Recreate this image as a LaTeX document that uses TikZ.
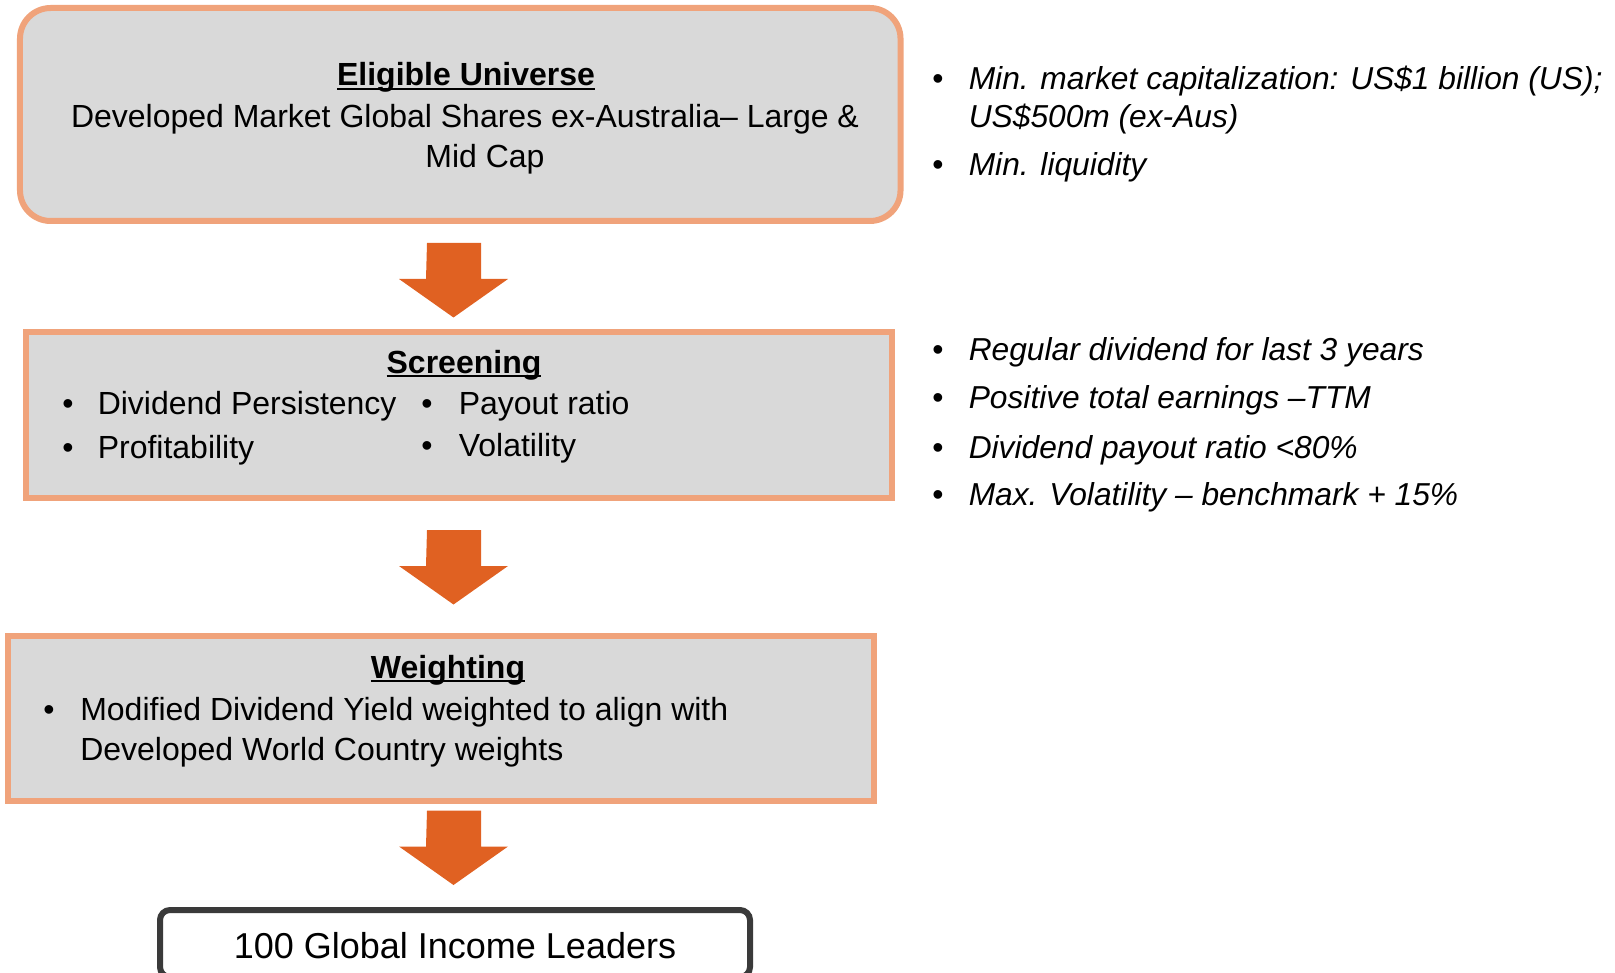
\documentclass[tikz,border=0pt]{standalone}
\usepackage{fontspec}
\setmainfont{Liberation Sans}
\definecolor{rim}{RGB}{240,163,123}
\definecolor{panel}{RGB}{217,217,217}
\definecolor{flow}{RGB}{224,97,34}
\definecolor{ink}{RGB}{58,58,58}
% bold heading with an underline that runs through the descenders
\newcommand\ttl[1]{\textbf{\setbox0\hbox{#1}\rlap{\rule[-0.12em]{\wd0}{0.07em}}\box0}}
% orange block arrow hanging from a named top point
\newcommand\blockarrow[1]{\fill[flow] (#1) ++(-27,0) -- ++(54,0) -- ++(0,36) -- ++(27,0)
  -- ++(-54.5,38.5) -- ++(-54.5,-38.5) -- ++(27,0) -- cycle;}
\begin{document}
\begin{tikzpicture}[x=0.75pt,y=-0.75pt,
  stage/.style={draw=rim,line width=4.5pt,fill=panel,inner sep=0pt},
  result/.style={draw=ink,line width=4.5pt,fill=white,rounded corners=7.5pt,inner sep=0pt},
  txt/.style={anchor=base,inner sep=0pt,font=\fontsize{24}{30}\selectfont},
  ltxt/.style={txt,anchor=base west},
  note/.style={ltxt,font=\fontsize{23.8}{30}\selectfont\itshape}]
\useasboundingbox (0,0) rectangle (1615,973);

% stage boxes
\node[stage,rounded corners=23pt,minimum width=660.4pt,minimum height=159.75pt] (uni) at (460.25,114.5) {};
\node[stage,minimum width=649.5pt,minimum height=124.5pt] (scr) at (459,415) {};
\node[stage,minimum width=649.5pt,minimum height=123.75pt] (wgt) at (441,718.5) {};
\node[result,minimum width=442.5pt,minimum height=50.25pt] (out) at (455,943.5) {};

% flow arrows between the stages
\coordinate (a1) at (454,243);
\coordinate (a2) at (454,530);
\coordinate (a3) at (454,810.5);
\blockarrow{a1}
\blockarrow{a2}
\blockarrow{a3}

% eligible universe
\node[txt] (uniT) at (466,86) {\ttl{Eligible Universe}};
\node[txt] (uniL1) at (465,128) {Developed Market Global Shares ex-Australia– Large \&};
\node[txt] (uniL2) at (485,168) {Mid Cap};

% screening
\node[txt] (scrT) at (464,373) {\ttl{Screening}};
\node[txt] (sb1) at (68,414) {•};
\node[ltxt] (s1) at (97.5,414) {Dividend Persistency};
\node[txt] (sb2) at (68,458) {•};
\node[ltxt] (s2) at (97.5,458) {Profitability};
\node[txt] (sb3) at (427,414) {•};
\node[ltxt] (s3) at (458.5,414) {Payout ratio};
\node[txt] (sb4) at (427,456.5) {•};
\node[ltxt] (s4) at (458.5,456.5) {Volatility};

% weighting
\node[txt] (wgtT) at (448,678) {\ttl{Weighting}};
\node[txt] (wb1) at (49,720) {•};
\node[ltxt] (w1) at (80,720) {Modified Dividend Yield weighted to align with};
\node[ltxt] (w2) at (80,760) {Developed World Country weights};

% result
\node[txt,font=\fontsize{27}{32}\selectfont] (outT) at (455,958) {100 Global Income Leaders};

% criteria notes
\node[txt] (nb1) at (938,90) {•};
\node[note] (n1) at (968.5,90) {Min. market capitalization: US\$1 billion (US);};
\node[note] (n1b) at (968.5,128) {US\$500m (ex-Aus)};
\node[txt] (nb2) at (938,176) {•};
\node[note] (n2) at (968.5,176) {Min. liquidity};
\node[txt] (nb3) at (938,360) {•};
\node[note] (n3) at (968.5,360) {Regular dividend for last 3 years};
\node[txt] (nb4) at (938,408) {•};
\node[note] (n4) at (968.5,408) {Positive total earnings –TTM};
\node[txt] (nb5) at (938,458) {•};
\node[note] (n5) at (968.5,458) {Dividend payout ratio <80\%};
\node[txt] (nb6) at (938,505) {•};
\node[note] (n6) at (968.5,505) {Max. Volatility – benchmark + 15\%};
\end{tikzpicture}
\end{document}
